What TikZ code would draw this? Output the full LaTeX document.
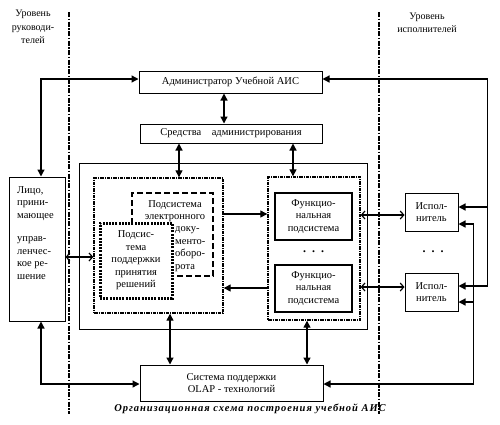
\documentclass[tikz,border=0pt]{standalone}
\usepackage{fontspec}
\setmainfont{Liberation Serif}
\newfontfamily\capfont[LetterSpace=9]{Liberation Serif}
\usetikzlibrary{arrows.meta}
\begin{document}
\begin{tikzpicture}[x=1pt,y=-1pt,
  every node/.style={font=\fontsize{10.5}{12.5}\selectfont, inner sep=0pt, align=center},
  bx/.style={draw, line width=1pt},
  thinbox/.style={draw, line width=0.9pt},
  ddbox/.style={draw, line width=1.4pt, dash pattern=on 3.5pt off 1pt on 1pt off 1pt},
  fbox/.style={draw, line width=2.6pt},
  dashbox/.style={draw, line width=2.6pt, dash pattern=on 6pt off 3pt},
  dotbox/.style={draw, line width=3pt, dash pattern=on 2pt off 1.2pt, fill=white},
  sep/.style={line width=1.9pt, dash pattern=on 5pt off 1.5pt on 1.5pt off 1.5pt},
  conn/.style={line width=1.3pt},
  >={Triangle[length=7pt,width=7pt]},
  bb/.style={line width=1.1pt, {Straight Barb[length=3.5pt,width=8pt,line width=1.2pt]}-{Straight Barb[length=3.5pt,width=8pt,line width=1.2pt]}}
]
\useasboundingbox (0,0) rectangle (500,424);
\fill[white] (0,0) rectangle (500,424);

% separators
\draw[sep] (69,12) -- (69,414);
\draw[sep] (379,12) -- (379,414);

% level labels
\node[font=\fontsize{10}{13.5}\selectfont] (lvl1) at (33,27) {Уровень\\руководи-\\телей};
\node[font=\fontsize{10}{12.5}\selectfont] (lvl2) at (427,23) {Уровень\\исполнителей};

% boxes
\node[bx, minimum width=183pt, minimum height=22pt] (admin) at (230.5,82) {Администратор Учебной АИС};
\node[bx, minimum width=182pt, minimum height=19pt] (sred) at (231,133.5) {Средства\quad администрирования};
\node[thinbox, minimum width=288pt, minimum height=166pt] (outer) at (223,246) {};
\node[ddbox, minimum width=129pt, minimum height=135pt] (L) at (158.5,245.5) {};
\node[ddbox, minimum width=92pt, minimum height=143pt] (R) at (314,248.5) {};
\node[fbox, minimum width=77pt, minimum height=47pt] (f1) at (313.5,216.5) {Функцио-\\нальная\\подсистема};
\node[fbox, minimum width=77pt, minimum height=47pt] (f2) at (313.5,288.5) {Функцио-\\нальная\\подсистема};
\node[font=\fontsize{12}{12}\selectfont\bfseries] (fdots) at (313.5,252) {.\enspace.\enspace.};
\node[dashbox, minimum width=81pt, minimum height=83pt] (doc) at (172.5,234.5) {};
\node[anchor=north] (doct) at (175,200) {Подсистема\\электронного};
\node[anchor=north west, align=left] (docb) at (175,226.5) {доку-\\менто-\\оборо-\\рота};
\node[dotbox, minimum width=72pt, minimum height=75pt] (dss) at (136,260.5) {Подсис-\\тема\\поддержки\\принятия\\решений};
\node[bx, minimum width=56pt, minimum height=144pt] (lico) at (37,249) {};
\node[anchor=north west, align=left] (licot) at (17,186) {Лицо,\\прини-\\мающее\\[11pt]управ-\\ленчес-\\кое ре-\\шение};
\node[bx, minimum width=53pt, minimum height=38pt] (ex1) at (431.5,212) {Испол-\\нитель};
\node[bx, minimum width=53pt, minimum height=38pt] (ex2) at (431.5,292) {Испол-\\нитель};
\node[font=\fontsize{12}{12}\selectfont\bfseries] (edots) at (433,252) {.\enspace.\enspace.};
\node[bx, minimum width=183pt, minimum height=36pt] (olap) at (231.5,383) {Система поддержки\\OLAP - технологий};

% caption
\node (cap) at (250,409) {\capfont\bfseries\itshape Организационная схема построения учебной АИС};

% connectors
\draw[conn,<->] ([xshift=-6.5pt]admin.south) -- ([xshift=-7pt]sred.north);
\draw[conn,<->] ([xshift=-52pt]sred.south) -- ([xshift=20.5pt]L.north);
\draw[conn,<->] ([xshift=62pt]sred.south) -- ([xshift=-21pt]R.north);
\draw[conn,<->] ([xshift=11.5pt]L.south) -- ([xshift=-61.5pt]olap.north);
\draw[conn,<->] ([xshift=-7pt]R.south) -- ([xshift=75.5pt]olap.north);

\draw[conn,<->] ([xshift=4pt]lico.north) |- ([yshift=3pt]admin.west);
\draw[conn,<->] ([xshift=4pt]lico.south) |- ([yshift=-1pt]olap.west);

\draw[conn,<->] ([yshift=3pt]admin.east) -- ++(165,0) |- ([yshift=6pt]ex2.east);
\coordinate (j1) at ([xshift=29pt,yshift=5pt]ex1.east);
\draw[conn,->] (j1) -- ([yshift=5pt]ex1.east);

\draw[conn,<->] ([yshift=-1pt]olap.east) -| ([xshift=15pt,yshift=-12pt]ex1.east) -- ([yshift=-12pt]ex1.east);
\coordinate (j2) at ([xshift=15pt,yshift=-10pt]ex2.east);
\draw[conn,->] (j2) -- ([yshift=-10pt]ex2.east);

\draw[conn,->] ([yshift=31.5pt]L.east) -- ([yshift=31.5pt]L.east -| R.west);
\draw[conn,->] ([yshift=-42.5pt]L.east -| R.west) -- ([yshift=-42.5pt]L.east);

\draw[bb] ([yshift=-8pt]lico.east) -- ([yshift=-8pt]lico.east -| L.west);
\draw[bb] ([yshift=-3pt]ex1.west -| R.east) -- ([yshift=-3pt]ex1.west);
\draw[bb] ([yshift=5pt]ex2.west -| R.east) -- ([yshift=5pt]ex2.west);
\end{tikzpicture}
\end{document}
